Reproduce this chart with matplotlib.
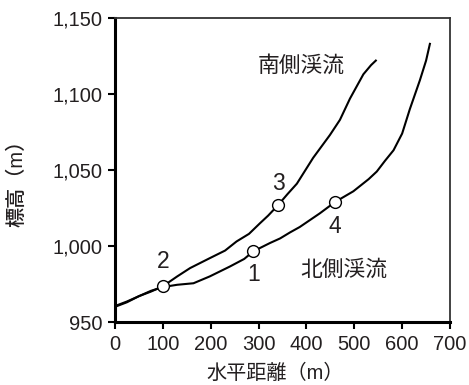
import matplotlib
matplotlib.use("Agg")
import matplotlib.pyplot as plt
from matplotlib.ticker import FuncFormatter

plt.rcParams['font.family'] = ['Liberation Sans', 'Noto Sans CJK JP']

# 南側渓流 (水平距離 m, 標高 m)
south_x = [0, 25, 50, 75, 100, 130, 157, 198, 230, 254, 280, 303, 320, 341,
           360, 380, 414, 449, 470, 491, 519, 535, 545]
south_y = [960.5, 963.5, 967, 970, 973.5, 980, 985.5, 992, 997, 1003, 1008,
           1015, 1020, 1027, 1034, 1041, 1058, 1073, 1083, 1097, 1113, 1119, 1122]

# 北側渓流
north_x = [0, 25, 50, 75, 100, 130, 164, 198, 240, 270, 289, 324, 345, 366,
           386, 428, 460, 498, 530, 547, 564, 582, 600, 616, 637, 650, 658]
north_y = [960, 963, 967, 970.5, 973, 974.5, 975.5, 980, 986.5, 991.5, 996.5,
           1002, 1005, 1009, 1012.5, 1021.5, 1029, 1036, 1044, 1049, 1056, 1063,
           1074, 1090, 1109, 1122, 1133]

# 地点番号
pt_labels = ['1', '2', '3', '4']
pt_x = [289, 100, 341, 460]
pt_y = [996.5, 973.5, 1027, 1029]
pt_text_y = [981, 990, 1041, 1013]

txt = '#231f20'
fig = plt.figure(figsize=(4.69, 3.85), dpi=100)
ax = fig.add_axes([0.2452, 0.1636, 0.7143, 0.7896])

ax.plot(south_x, south_y, color='black', lw=1.5)
ax.plot(north_x, north_y, color='black', lw=1.5)
ax.plot(pt_x, pt_y, 'o', ms=8.5, mfc='white', mec='black', mew=1.0, zorder=5)
for lab, x, y in zip(pt_labels, pt_x, pt_text_y):
    ax.text(x, y, lab, fontsize=16.5, color=txt, ha='center', va='center')

ax.text(390, 1118, '南側渓流', fontsize=15.7, color=txt, ha='center', va='center')
ax.text(477, 984, '北側渓流', fontsize=15.7, color=txt, ha='center', va='center')

ax.set_xlim(0, 700)
ax.set_ylim(950, 1150)
ax.set_xticks(range(0, 701, 100))
ax.set_yticks(range(950, 1151, 50))
ax.yaxis.set_major_formatter(FuncFormatter(lambda v, p: f'{int(v):,}'))
ax.tick_params(direction='out', length=5, width=1.5, labelsize=14.5,
               labelcolor=txt, pad=4)
ax.set_xlabel('水平距離（m）', fontsize=14.5, color=txt, va='center')
ax.set_ylabel('標高（m）', fontsize=14.5, color=txt, va='center',
              fontweight='medium')
ax.xaxis.set_label_coords(0.478, -0.168)
ax.yaxis.set_label_coords(-0.293, 0.474)

for s in ['left', 'bottom']:
    ax.spines[s].set_linewidth(2.2)
    ax.spines[s].set_color('black')
for s in ['top', 'right']:
    ax.spines[s].set_linewidth(1.3)
    ax.spines[s].set_color('#333333')

fig.savefig('out.png', dpi=100)
